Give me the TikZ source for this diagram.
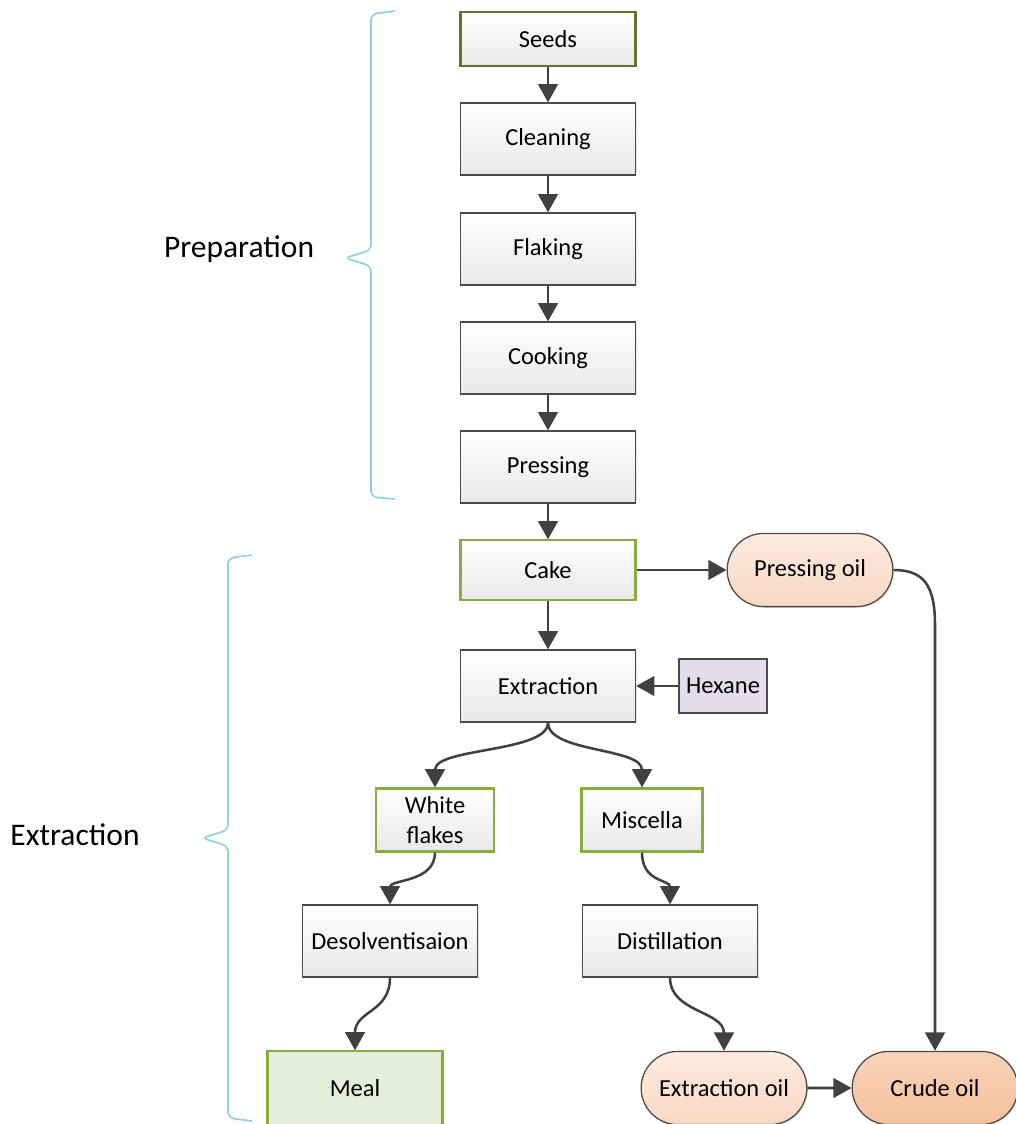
\documentclass[tikz,border=0pt]{standalone}
\usepackage{fontspec}
\setmainfont{Carlito}
\usetikzlibrary{arrows.meta,shapes.misc,shadows}
\definecolor{linegray}{HTML}{4A4A4A}
\definecolor{arrgray}{HTML}{404040}
\definecolor{oliveline}{HTML}{5F7530}
\definecolor{greenline}{HTML}{86AD3F}
\definecolor{mealfill}{HTML}{E6EDD8}
\definecolor{hexfill}{HTML}{E2DCEB}
\definecolor{peachtop}{HTML}{FCEBDF}
\definecolor{peachbot}{HTML}{F8D8C3}
\definecolor{crudetop}{HTML}{F9D3B9}
\definecolor{crudebot}{HTML}{F4C09C}
\definecolor{bracecol}{HTML}{92D0DF}
\newcommand{\boxfont}{\fontsize{17.4}{21.3}\selectfont}
\newcommand{\sidefont}{\fontsize{22.4}{26}\selectfont}

\begin{document}
\begin{tikzpicture}[x=0.025cm,y=-0.025cm,
   box/.style={draw=linegray,line width=0.9pt,top color=white,bottom color=black!9,
     minimum width=4.375cm,minimum height=1.8cm,align=center,font=\boxfont,
     drop shadow={shadow xshift=1pt,shadow yshift=-1pt,opacity=0.2}},
   prod/.style={box,draw=greenline,line width=1.5pt},
   oil/.style={box,rounded rectangle,top color=peachtop,bottom color=peachbot},
   arr/.style={draw=arrgray,line width=1.8pt,-{Triangle[width=14pt,length=13pt]}},
   brace/.style={draw=bracecol,line width=1.2pt,rounded corners=4pt}]
   \useasboundingbox (0,0) rectangle (1015,1124);
   % preparation
   \node[box,draw=oliveline,line width=1.6pt,minimum height=1.35cm] (seeds) at (548,39) {Seeds};
   \node[box] (clean) at (548,139) {Cleaning};
   \node[box] (flake) at (548,249) {Flaking};
   \node[box] (cook)  at (548,358) {Cooking};
   \node[box] (press) at (548,467) {Pressing};
   % extraction
   \node[prod,minimum height=1.48cm] (cake) at (548,570) {Cake};
   \node[oil,minimum height=1.83cm] (poil) at (810,570) {Pressing oil};
   \node[box] (ext) at (548,686) {Extraction};
   \node[box,fill=hexfill,top color=hexfill,bottom color=hexfill,
     minimum width=2.2cm,minimum height=1.35cm] (hex) at (723,686) {Hexane};
   \node[prod,minimum width=2.95cm,minimum height=1.575cm] (wf) at (435,820) {White\\flakes};
   \node[prod,minimum width=3.025cm,minimum height=1.575cm] (mis) at (642,820) {Miscella};
   \node[box] (des)  at (390,941) {Desolventisaion};
   \node[box] (dist) at (670,941) {Distillation};
   \node[prod,top color=mealfill,bottom color=mealfill,
     minimum height=1.83cm] (meal) at (355,1088) {Meal};
   \node[oil,minimum height=1.83cm] (eoil) at (724,1088) {Extraction oil};
   \node[oil,top color=crudetop,bottom color=crudebot,minimum height=1.83cm] (crude) at (935,1088) {Crude oil};
   \coordinate (turn) at (935,625);
   % arrows
   \draw[arr] (seeds) -- (clean);
   \draw[arr] (clean) -- (flake);
   \draw[arr] (flake) -- (cook);
   \draw[arr] (cook) -- (press);
   \draw[arr] (press) -- (cake);
   \draw[arr] (cake) -- (poil);
   \draw[arr] (cake) -- (ext);
   \draw[arr] (hex) -- (ext);
   \draw[arr] (ext.south) .. controls +(0,30) and +(0,-40) .. (wf.north);
   \draw[arr] (ext.south) .. controls +(0,30) and +(0,-40) .. (mis.north);
   \draw[arr] (wf.south) .. controls +(0,30) and +(0,-25) .. (des.north);
   \draw[arr] (mis.south) .. controls +(0,30) and +(0,-25) .. (dist.north);
   \draw[arr] (des.south) .. controls +(0,35) and +(0,-40) .. (meal.north);
   \draw[arr] (dist.south) .. controls +(0,35) and +(0,-40) .. (eoil.north);
   \draw[arr] (poil.east) .. controls +(30,0) and +(0,-40) .. (turn) -- (crude.north);
   \draw[arr] (eoil) -- (crude);
   % braces
   \draw[brace] (395,11) -- (371,14) -- (371,250) -- (345,258) -- (371,266) -- (371,497) -- (395,499);
   \draw[brace] (252,555) -- (228,558) -- (228,830) -- (202,838) -- (228,846) -- (228,1118) -- (252,1121);
   \node[font=\sidefont] (prep) at (239,249) {Preparation};
   \node[font=\sidefont] (extr) at (75,835) {Extraction};
\end{tikzpicture}
\end{document}
